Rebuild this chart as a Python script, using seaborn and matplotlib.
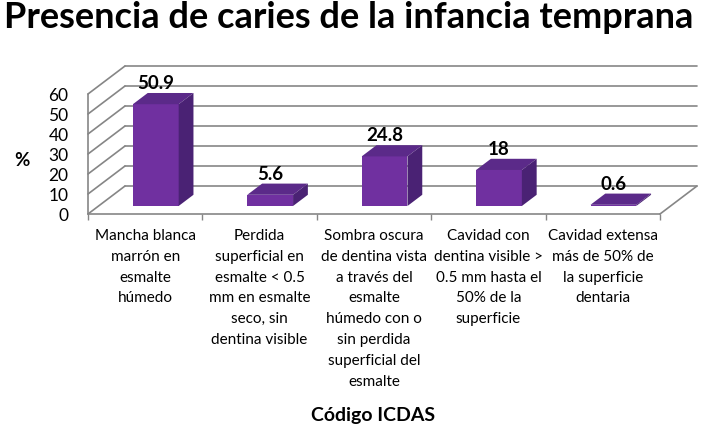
import numpy as np
import pandas as pd
import matplotlib
matplotlib.use("Agg")
import matplotlib.pyplot as plt
from matplotlib.patches import Polygon
import seaborn as sns

codigos = [
    "Mancha blanca\nmarrón en\nesmalte\nhúmedo",
    "Perdida\nsuperficial en\nesmalte < 0.5\nmm en esmalte\nseco, sin\ndentina visible",
    "Sombra oscura\nde dentina vista\na través del\nesmalte\nhúmedo con o\nsin perdida\nsuperficial del\nesmalte",
    "Cavidad con\ndentina visible >\n0.5 mm hasta el\n50% de la\nsuperficie",
    "Cavidad extensa\nmás de 50% de\nla superficie\ndentaria",
]
porcentajes = [50.9, 5.6, 24.8, 18, 0.6]
etiquetas = ["50.9", "5.6", "24.8", "18", "0.6"]
yticks = [0, 10, 20, 30, 40, 50, 60]

FRONT = "#7030A0"
TOP = "#5B2A89"
SIDE = "#4A2274"
GRID = "#868686"

# oblique "3d" look: depth vector in data units (x in categories, y in %)
DX, DY = 37 / 114.4, 14.0
D0, DB = 0.286, 0.4   # where the bars start in depth, and how deep they are

sns.set_theme(style="white")
plt.rcParams["font.family"] = ["Lato", "DejaVu Sans"]
plt.rcParams["text.color"] = "black"

W, H = 711, 439
fig = plt.figure(figsize=(W / 100, H / 100), dpi=100)
ax = fig.add_axes([88 / W, (H - 215) / H, (660 - 88) / W, 120 / H])

df = pd.DataFrame({"codigo": codigos, "pct": porcentajes})
sns.barplot(data=df, x="codigo", y="pct", color=FRONT, saturation=1,
            width=0.4, ax=ax, zorder=3)

ax.set_xlim(-0.5, 4.5)
ax.set_ylim(0, 60)
for s in ax.spines.values():
    s.set_visible(False)
ax.grid(False)

# walls and floor
x_left, x_right = -0.5, len(codigos) - 0.5
for v in yticks:
    ax.plot([x_left + DX, x_right + DX], [v + DY, v + DY], color=GRID, lw=1.2,
            clip_on=False, zorder=1)
    ax.plot([x_left, x_left + DX], [v, v + DY], color=GRID, lw=1.2,
            clip_on=False, zorder=1)
ax.plot([x_left, x_left], [0, yticks[-1]], color=GRID, lw=1.2, clip_on=False, zorder=1)
ax.plot([x_left, x_right], [0, 0], color=GRID, lw=1.2, clip_on=False, zorder=1)
ax.plot([x_right, x_right + DX], [0, DY], color=GRID, lw=1.2, clip_on=False, zorder=1)

# bars: shift front faces back, then add top and side faces
for p, lab in zip(ax.patches, etiquetas):
    x0 = p.get_x() + D0 * DX
    y0 = D0 * DY
    w, h = p.get_width(), p.get_height()
    p.set_x(x0)
    p.set_y(y0)
    p.set_edgecolor("none")
    p.set_clip_on(False)
    top = [(x0, y0 + h), (x0 + w, y0 + h),
           (x0 + w + DB * DX, y0 + h + DB * DY), (x0 + DB * DX, y0 + h + DB * DY)]
    side = [(x0 + w, y0), (x0 + w + DB * DX, y0 + DB * DY),
            (x0 + w + DB * DX, y0 + h + DB * DY), (x0 + w, y0 + h)]
    ax.add_patch(Polygon(top, closed=True, facecolor=TOP, edgecolor="none",
                         clip_on=False, zorder=3))
    ax.add_patch(Polygon(side, closed=True, facecolor=SIDE, edgecolor="none",
                         clip_on=False, zorder=3))
    ax.annotate(lab, xy=(x0 + w / 2, y0 + h), xytext=(0, 11.5),
                textcoords="offset points", ha="center", va="baseline",
                fontsize=13.5, fontweight="bold", color="black", zorder=4)

ax.set_yticks(yticks)
ax.tick_params(axis="y", length=0, pad=14, labelsize=12.5, labelcolor="black")
ax.set_xticks(np.arange(len(codigos)))
ax.set_xticklabels(codigos, linespacing=1.62)
ax.set_xticks(np.arange(len(codigos) + 1) - 0.5, minor=True)
ax.tick_params(axis="x", which="major", length=0, pad=10, labelsize=11,
               labelcolor="black")
ax.tick_params(axis="x", which="minor", length=4, width=1, color=GRID,
               direction="out", bottom=True)
ax.set_xlabel("")
ax.set_ylabel("")

fig.text(22 / W, 1 - 160 / H, "%", ha="center", va="center",
         fontsize=13.5, fontweight="bold")
fig.text(373 / W, 1 - 415 / H, "Código ICDAS", ha="center", va="center",
         fontsize=14, fontweight="bold")
fig.text(349 / W, 1 - 28 / H, "Presencia de caries de la infancia temprana",
         ha="center", va="baseline", fontsize=26, fontweight="bold")

fig.savefig("out.png", dpi=100, facecolor="white")
